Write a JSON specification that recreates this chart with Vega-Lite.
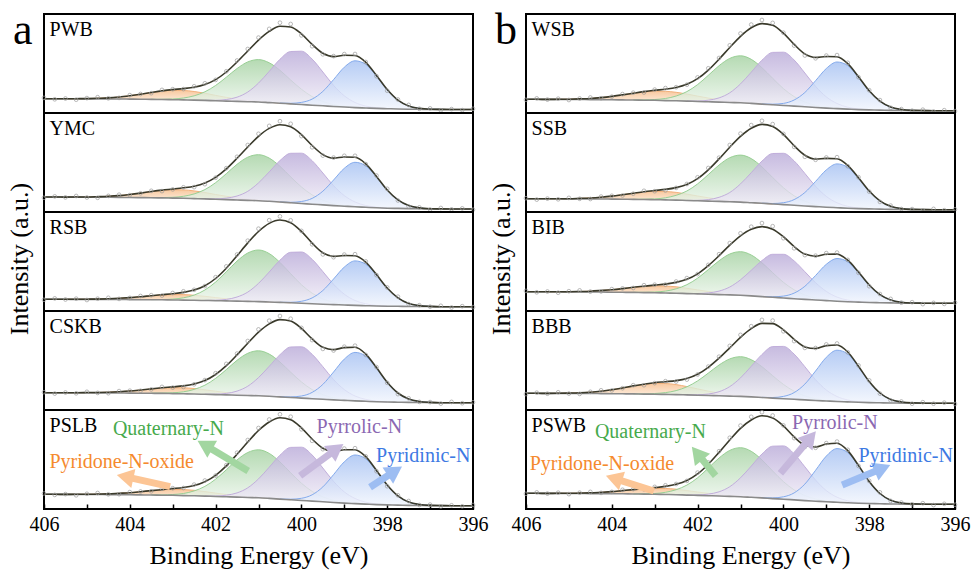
{
  "$schema": "https://vega.github.io/schema/vega-lite/v6.json",
  "background": "white",
  "padding": {"left": 6, "top": 7, "right": 5, "bottom": 2},
  "spacing": 0,
  "config": {
    "view": {"stroke": "black", "strokeWidth": 2},
    "font": "Liberation Serif",
    "axisY": {"disable": true},
    "axis": {
      "labelFont": "Liberation Serif", "labelFontSize": 20, "labelColor": "black",
      "titleFont": "Liberation Serif", "titleFontSize": 26, "titleFontWeight": "normal", "titleColor": "black",
      "tickColor": "black", "tickWidth": 1.5, "domain": false, "grid": false
    },
    "header": {"titleFont": "Liberation Serif", "titleFontSize": 26, "titleFontWeight": "normal", "titleColor": "black"}
  },
  "datasets": {
    "a": [
      {"p":"PWB","tag":"a","x":406.72},
      {"p":"PWB","x":406,"b":14.3,"e":14.3,"d":15.1},
      {"p":"PWB","x":405.75,"b":14.3,"e":14.3,"d":13.7},
      {"p":"PWB","x":405.5,"b":14.2,"o":14.2,"e":14.2,"d":14.5},
      {"p":"PWB","x":405.25,"b":14.2,"o":14.3,"e":14.3,"d":13.3},
      {"p":"PWB","x":405,"b":14.1,"o":14.4,"e":14.4,"d":14.9},
      {"p":"PWB","x":404.75,"b":14.1,"o":14.7,"e":14.7,"d":15.8},
      {"p":"PWB","x":404.5,"b":14,"o":15.1,"e":15.1,"d":14.7},
      {"p":"PWB","x":404.25,"b":14,"o":16,"e":16,"d":15.1},
      {"p":"PWB","x":404,"b":13.9,"o":17.3,"e":17.3,"d":17.9},
      {"p":"PWB","x":403.75,"b":13.8,"o":18.8,"e":18.8,"d":19},
      {"p":"PWB","x":403.5,"b":13.6,"o":20.4,"g":13.7,"e":20.5,"d":19.8},
      {"p":"PWB","x":403.25,"b":13.5,"o":21.9,"g":13.7,"e":22.1,"d":23.1},
      {"p":"PWB","x":403,"b":13.3,"o":22.6,"g":14,"e":23.4,"d":23.8},
      {"p":"PWB","x":402.75,"b":13.1,"o":22.5,"g":15,"e":24.4,"d":23.9},
      {"p":"PWB","x":402.5,"b":12.9,"o":21.5,"g":17.2,"e":25.8,"d":26.7},
      {"p":"PWB","x":402.25,"b":12.6,"o":19.8,"g":21.2,"v":12.7,"e":28.5,"d":29.7},
      {"p":"PWB","x":402,"b":12.2,"o":17.6,"g":27.5,"v":12.7,"e":33.4,"d":33.1},
      {"p":"PWB","x":401.75,"b":11.9,"o":15.6,"g":35.8,"v":13.5,"e":41,"d":41.7},
      {"p":"PWB","x":401.5,"b":11.6,"o":13.9,"g":44.5,"v":15.8,"e":51,"d":52.5},
      {"p":"PWB","x":401.25,"b":11.3,"o":12.6,"g":51.1,"v":21,"e":62,"d":64},
      {"p":"PWB","x":401,"b":11,"o":11.7,"g":53.4,"v":29.9,"e":72.9,"d":75.4},
      {"p":"PWB","x":400.75,"b":10.4,"o":10.7,"g":50.2,"v":41.6,"e":81.6,"d":84.1},
      {"p":"PWB","x":400.5,"b":9.8,"o":9.9,"g":42.7,"v":53.7,"u":9.9,"e":86.8,"d":90.3},
      {"p":"PWB","x":400.25,"b":9.1,"o":9.2,"g":33,"v":61.5,"u":9.7,"e":86,"d":89},
      {"p":"PWB","x":400,"b":8.5,"g":23.8,"v":61.8,"u":10.6,"e":79.1,"d":77.6},
      {"p":"PWB","x":399.75,"b":7.8,"g":16.4,"v":53.9,"u":13.9,"e":68.6,"d":66.8},
      {"p":"PWB","x":399.5,"b":7.2,"g":11.5,"v":41,"u":21.6,"e":59.7,"d":58.7},
      {"p":"PWB","x":399.25,"b":6.5,"g":8.4,"v":27.6,"u":33.4,"e":56.4,"d":56.9},
      {"p":"PWB","x":399,"b":6,"g":6.7,"v":17.2,"u":45.8,"e":57.7,"d":58.9},
      {"p":"PWB","x":398.75,"b":5.4,"g":5.6,"v":10.5,"u":52.2,"e":57.5,"d":59},
      {"p":"PWB","x":398.5,"b":5,"g":5.1,"v":6.9,"u":48.7,"e":50.7,"d":51},
      {"p":"PWB","x":398.25,"b":4.6,"v":5.3,"u":36.9,"e":37.6,"d":36.8},
      {"p":"PWB","x":398,"b":4.3,"v":4.5,"u":23.3,"e":23.5,"d":22.3},
      {"p":"PWB","x":397.75,"b":4,"u":12.9,"e":12.9,"d":13.5},
      {"p":"PWB","x":397.5,"b":3.8,"u":7.1,"e":7.1,"d":8.1},
      {"p":"PWB","x":397.25,"b":3.7,"u":4.7,"e":4.7,"d":4.2},
      {"p":"PWB","x":397,"b":3.6,"u":3.8,"e":3.8,"d":4.6},
      {"p":"PWB","x":396.75,"b":3.6,"u":3.6,"e":3.6,"d":2.7},
      {"p":"PWB","x":396.5,"b":3.5,"e":3.5,"d":3.9},
      {"p":"PWB","x":396.25,"b":3.5,"e":3.5,"d":2.9},
      {"p":"PWB","x":396,"b":3.5,"e":3.5,"d":4.2},

      {"p":"YMC","x":406,"b":15,"e":15,"d":14.2},
      {"p":"YMC","x":405.75,"b":15,"e":15,"d":15.6},
      {"p":"YMC","x":405.5,"b":14.9,"o":14.9,"e":14.9,"d":14.6},
      {"p":"YMC","x":405.25,"b":14.9,"o":15,"e":15,"d":16},
      {"p":"YMC","x":405,"b":14.8,"o":15,"e":15,"d":14.5},
      {"p":"YMC","x":404.75,"b":14.8,"o":15.3,"e":15.3,"d":14.2},
      {"p":"YMC","x":404.5,"b":14.7,"o":15.7,"e":15.7,"d":16.1},
      {"p":"YMC","x":404.25,"b":14.6,"o":16.4,"e":16.4,"d":17.3},
      {"p":"YMC","x":404,"b":14.5,"o":17.5,"e":17.5,"d":16.9},
      {"p":"YMC","x":403.75,"b":14.4,"o":18.9,"e":18.9,"d":18.7},
      {"p":"YMC","x":403.5,"b":14.3,"o":20.4,"g":14.4,"e":20.5,"d":21.2},
      {"p":"YMC","x":403.25,"b":14.1,"o":21.6,"g":14.4,"e":21.9,"d":20.9},
      {"p":"YMC","x":403,"b":13.9,"o":22.3,"g":14.7,"e":23,"d":22.6},
      {"p":"YMC","x":402.75,"b":13.7,"o":22.1,"g":15.7,"e":24.2,"d":24.7},
      {"p":"YMC","x":402.5,"b":13.4,"o":21.1,"g":18.1,"e":25.8,"d":24.9},
      {"p":"YMC","x":402.25,"b":13.1,"o":19.5,"g":22.4,"v":13.2,"e":29,"d":27.8},
      {"p":"YMC","x":402,"b":12.7,"o":17.5,"g":29.3,"v":13.2,"e":34.6,"d":34.3},
      {"p":"YMC","x":401.75,"b":12.4,"o":15.7,"g":38.3,"v":13.9,"e":43.1,"d":43.8},
      {"p":"YMC","x":401.5,"b":12,"o":14.1,"g":47.7,"v":16,"e":53.7,"d":55.2},
      {"p":"YMC","x":401.25,"b":11.6,"o":12.8,"g":54.8,"v":20.7,"e":65,"d":67},
      {"p":"YMC","x":401,"b":11.3,"o":11.9,"g":57.3,"v":29.1,"e":75.7,"d":78.2},
      {"p":"YMC","x":400.75,"b":10.7,"o":11,"g":53.9,"v":40.1,"e":83.6,"d":86.1},
      {"p":"YMC","x":400.5,"b":10,"o":10.1,"g":45.7,"v":51.4,"u":10.1,"e":87.3,"d":90.8},
      {"p":"YMC","x":400.25,"b":9.2,"o":9.2,"g":35.1,"v":58.7,"u":9.7,"e":85.2,"d":88.2},
      {"p":"YMC","x":400,"b":8.5,"g":25.1,"v":58.8,"u":10.5,"e":77.4,"d":75.9},
      {"p":"YMC","x":399.75,"b":7.8,"g":17.1,"v":51.3,"u":13.6,"e":66.5,"d":64.7},
      {"p":"YMC","x":399.5,"b":7.1,"g":11.8,"v":39,"u":20.8,"e":57.4,"d":56.4},
      {"p":"YMC","x":399.25,"b":6.4,"g":8.4,"v":26.3,"u":32,"e":53.9,"d":54.4},
      {"p":"YMC","x":399,"b":5.8,"g":6.6,"v":16.4,"u":43.7,"e":55,"d":56.2},
      {"p":"YMC","x":398.75,"b":5.2,"g":5.5,"v":10,"u":49.7,"e":54.7,"d":56.2},
      {"p":"YMC","x":398.5,"b":4.7,"g":4.8,"v":6.5,"u":46.2,"e":48.2,"d":47.9},
      {"p":"YMC","x":398.25,"b":4.2,"v":4.8,"u":35,"e":35.6,"d":36.4},
      {"p":"YMC","x":398,"b":3.8,"v":4,"u":21.9,"e":22,"d":23.2},
      {"p":"YMC","x":397.75,"b":3.6,"u":12.1,"e":12.1,"d":11.5},
      {"p":"YMC","x":397.5,"b":3.4,"u":6.5,"e":6.5,"d":5.5},
      {"p":"YMC","x":397.25,"b":3.2,"u":4.1,"e":4.1,"d":4.6},
      {"p":"YMC","x":397,"b":3.1,"u":3.3,"e":3.3,"d":2.5},
      {"p":"YMC","x":396.75,"b":3.1,"u":3.1,"e":3.1,"d":4},
      {"p":"YMC","x":396.5,"b":3,"e":3,"d":2.6},
      {"p":"YMC","x":396.25,"b":3,"e":3,"d":3.6},
      {"p":"YMC","x":396,"b":3,"e":3,"d":2.3},

      {"p":"RSB","x":406,"b":11.7,"e":11.7,"d":11.2},
      {"p":"RSB","x":405.75,"b":11.7,"e":11.7,"d":12.6},
      {"p":"RSB","x":405.5,"b":11.7,"o":11.7,"e":11.7,"d":11.5},
      {"p":"RSB","x":405.25,"b":11.6,"o":11.7,"e":11.7,"d":12.3},
      {"p":"RSB","x":405,"b":11.6,"o":11.8,"e":11.8,"d":11},
      {"p":"RSB","x":404.75,"b":11.6,"o":11.9,"e":11.9,"d":12.3},
      {"p":"RSB","x":404.5,"b":11.5,"o":12.2,"e":12.2,"d":13.2},
      {"p":"RSB","x":404.25,"b":11.5,"o":12.7,"e":12.7,"d":12.1},
      {"p":"RSB","x":404,"b":11.4,"o":13.4,"e":13.4,"d":13.1},
      {"p":"RSB","x":403.75,"b":11.3,"o":14.2,"e":14.2,"d":15},
      {"p":"RSB","x":403.5,"b":11.3,"o":15.2,"g":11.4,"e":15.3,"d":15.8},
      {"p":"RSB","x":403.25,"b":11.2,"o":16.1,"g":11.5,"e":16.3,"d":15.4},
      {"p":"RSB","x":403,"b":11,"o":16.4,"g":11.9,"e":17.3,"d":18},
      {"p":"RSB","x":402.75,"b":10.9,"o":16.4,"g":13.2,"e":18.6,"d":19.7},
      {"p":"RSB","x":402.5,"b":10.7,"o":15.7,"g":15.9,"e":20.9,"d":21.2},
      {"p":"RSB","x":402.25,"b":10.5,"o":14.7,"g":21,"v":10.6,"e":25.3,"d":24.9},
      {"p":"RSB","x":402,"b":10.3,"o":13.4,"g":28.9,"v":10.8,"e":32.5,"d":33.8},
      {"p":"RSB","x":401.75,"b":10.1,"o":12.2,"g":39.2,"v":11.6,"e":42.8,"d":44.6},
      {"p":"RSB","x":401.5,"b":9.9,"o":11.2,"g":49.9,"v":14,"e":55.3,"d":56.5},
      {"p":"RSB","x":401.25,"b":9.6,"o":10.3,"g":58,"v":18.9,"e":68.1,"d":70.3},
      {"p":"RSB","x":401,"b":9.4,"o":9.8,"g":61,"v":27.6,"e":79.5,"d":82.3},
      {"p":"RSB","x":400.75,"b":9,"o":9.2,"g":57.4,"v":39,"e":87.6,"d":90.8},
      {"p":"RSB","x":400.5,"b":8.6,"o":8.7,"g":48.6,"v":50.8,"u":8.7,"e":91,"d":94.6},
      {"p":"RSB","x":400.25,"b":8.2,"o":8.2,"g":37.3,"v":58.7,"u":8.7,"e":88.3,"d":90.7},
      {"p":"RSB","x":400,"b":7.7,"g":26.3,"v":59,"u":9.7,"e":79.6,"d":80.1},
      {"p":"RSB","x":399.75,"b":7.3,"g":17.8,"v":51.7,"u":13.1,"e":67.9,"d":66.7},
      {"p":"RSB","x":399.5,"b":6.8,"g":12,"v":39.4,"u":20.5,"e":58.2,"d":56.6},
      {"p":"RSB","x":399.25,"b":6.4,"g":8.7,"v":26.7,"u":32,"e":54.6,"d":53.8},
      {"p":"RSB","x":399,"b":6,"g":6.9,"v":16.8,"u":43.9,"e":55.5,"d":56.4},
      {"p":"RSB","x":398.75,"b":5.6,"g":5.9,"v":10.5,"u":50.1,"e":55.2,"d":56.8},
      {"p":"RSB","x":398.5,"b":5.3,"g":5.4,"v":7.2,"u":46.8,"e":48.8,"d":49.6},
      {"p":"RSB","x":398.25,"b":5,"v":5.6,"u":35.8,"e":36.4,"d":35.9},
      {"p":"RSB","x":398,"b":4.8,"v":5,"u":22.9,"e":23,"d":23.6},
      {"p":"RSB","x":397.75,"b":4.7,"u":13.2,"e":13.2,"d":14.3},
      {"p":"RSB","x":397.5,"b":4.5,"u":7.6,"e":7.6,"d":6.9},
      {"p":"RSB","x":397.25,"b":4.5,"u":5.4,"e":5.4,"d":5.8},
      {"p":"RSB","x":397,"b":4.4,"u":4.6,"e":4.6,"d":4.3},
      {"p":"RSB","x":396.75,"b":4.3,"u":4.3,"e":4.3,"d":5.2},
      {"p":"RSB","x":396.5,"b":4.3,"e":4.3,"d":3.5},
      {"p":"RSB","x":396.25,"b":4.3,"e":4.3,"d":4.8},
      {"p":"RSB","x":396,"b":4.3,"e":4.3,"d":3.9},

      {"p":"CSKB","x":406,"b":17.3,"e":17.3,"d":17.8},
      {"p":"CSKB","x":405.75,"b":17.3,"e":17.3,"d":16.4},
      {"p":"CSKB","x":405.5,"b":17.3,"o":17.3,"e":17.3,"d":17.5},
      {"p":"CSKB","x":405.25,"b":17.2,"o":17.3,"e":17.3,"d":16.7},
      {"p":"CSKB","x":405,"b":17.2,"o":17.4,"e":17.4,"d":18.2},
      {"p":"CSKB","x":404.75,"b":17.1,"o":17.5,"e":17.5,"d":17.1},
      {"p":"CSKB","x":404.5,"b":17.1,"o":17.8,"e":17.8,"d":16.8},
      {"p":"CSKB","x":404.25,"b":17,"o":18.3,"e":18.3,"d":18.9},
      {"p":"CSKB","x":404,"b":16.9,"o":19,"e":19,"d":19.3},
      {"p":"CSKB","x":403.75,"b":16.8,"o":20,"e":20,"d":19.2},
      {"p":"CSKB","x":403.5,"b":16.7,"o":21,"g":16.8,"e":21.1,"d":20.6},
      {"p":"CSKB","x":403.25,"b":16.6,"o":21.9,"g":16.9,"e":22.2,"d":23.1},
      {"p":"CSKB","x":403,"b":16.4,"o":22.3,"g":17.2,"e":23.1,"d":22.4},
      {"p":"CSKB","x":402.75,"b":16.2,"o":22.2,"g":18.2,"e":24.1,"d":23},
      {"p":"CSKB","x":402.5,"b":16,"o":21.5,"g":20.6,"e":26,"d":25.7},
      {"p":"CSKB","x":402.25,"b":15.7,"o":20.2,"g":24.8,"v":15.8,"e":29.5,"d":29.9},
      {"p":"CSKB","x":402,"b":15.4,"o":18.8,"g":31.6,"v":15.9,"e":35.5,"d":36.8},
      {"p":"CSKB","x":401.75,"b":15.1,"o":17.4,"g":40.4,"v":16.6,"e":44.3,"d":46.1},
      {"p":"CSKB","x":401.5,"b":14.8,"o":16.3,"g":49.7,"v":18.9,"e":55.2,"d":56.4},
      {"p":"CSKB","x":401.25,"b":14.5,"o":15.3,"g":56.7,"v":23.8,"e":66.8,"d":69},
      {"p":"CSKB","x":401,"b":14.2,"o":14.6,"g":59.2,"v":32.4,"e":77.8,"d":80.6},
      {"p":"CSKB","x":400.75,"b":13.7,"o":13.9,"g":55.9,"v":43.7,"e":86.1,"d":89.3},
      {"p":"CSKB","x":400.5,"b":13.1,"o":13.2,"g":48,"v":55.3,"u":13.2,"e":90.4,"d":94},
      {"p":"CSKB","x":400.25,"b":12.5,"o":12.5,"g":37.8,"v":63,"u":13.1,"e":88.9,"d":91.3},
      {"p":"CSKB","x":400,"b":11.9,"g":28.1,"v":63.2,"u":14,"e":81.6,"d":82.1},
      {"p":"CSKB","x":399.75,"b":11.3,"g":20.4,"v":55.7,"u":17.6,"e":71.1,"d":69.9},
      {"p":"CSKB","x":399.5,"b":10.7,"g":15.3,"v":43.3,"u":25.6,"e":62.7,"d":61.1},
      {"p":"CSKB","x":399.25,"b":10.1,"g":12.1,"v":30.4,"u":38,"e":60.3,"d":59.5},
      {"p":"CSKB","x":399,"b":9.6,"g":10.4,"v":20.4,"u":50.9,"e":62.4,"d":63.3},
      {"p":"CSKB","x":398.75,"b":9.1,"g":9.4,"v":14,"u":57.6,"e":62.7,"d":64.3},
      {"p":"CSKB","x":398.5,"b":8.7,"g":8.8,"v":10.6,"u":53.9,"e":55.9,"d":55.1},
      {"p":"CSKB","x":398.25,"b":8.3,"v":8.9,"u":41.8,"e":42.4,"d":42.9},
      {"p":"CSKB","x":398,"b":8,"v":8.2,"u":27.7,"e":27.8,"d":27.2},
      {"p":"CSKB","x":397.75,"b":7.8,"u":17,"e":17,"d":15.9},
      {"p":"CSKB","x":397.5,"b":7.6,"u":11,"e":11,"d":11.7},
      {"p":"CSKB","x":397.25,"b":7.5,"u":8.5,"e":8.5,"d":8.1},
      {"p":"CSKB","x":397,"b":7.4,"u":7.6,"e":7.6,"d":7.9},
      {"p":"CSKB","x":396.75,"b":7.3,"u":7.3,"e":7.3,"d":6.4},
      {"p":"CSKB","x":396.5,"b":7.3,"e":7.3,"d":8.1},
      {"p":"CSKB","x":396.25,"b":7.3,"e":7.3,"d":6.8},
      {"p":"CSKB","x":396,"b":7.3,"e":7.3,"d":7.7},

      {"p":"PSLB","x":406,"b":14.7,"e":14.7,"d":15.5},
      {"p":"PSLB","x":405.75,"b":14.7,"e":14.7,"d":14.1},
      {"p":"PSLB","x":405.5,"b":14.6,"o":14.6,"e":14.6,"d":14.9},
      {"p":"PSLB","x":405.25,"b":14.6,"o":14.7,"e":14.7,"d":13.7},
      {"p":"PSLB","x":405,"b":14.5,"o":14.7,"e":14.7,"d":15.2},
      {"p":"PSLB","x":404.75,"b":14.5,"o":14.9,"e":14.9,"d":16},
      {"p":"PSLB","x":404.5,"b":14.4,"o":15.1,"e":15.1,"d":14.7},
      {"p":"PSLB","x":404.25,"b":14.4,"o":15.7,"e":15.7,"d":14.8},
      {"p":"PSLB","x":404,"b":14.2,"o":16.3,"e":16.3,"d":16.9},
      {"p":"PSLB","x":403.75,"b":14.1,"o":17.3,"e":17.3,"d":17.5},
      {"p":"PSLB","x":403.5,"b":14,"o":18.3,"g":14.1,"e":18.4,"d":17.7},
      {"p":"PSLB","x":403.25,"b":13.8,"o":19.1,"g":14.1,"e":19.4,"d":20.4},
      {"p":"PSLB","x":403,"b":13.7,"o":19.6,"g":14.5,"e":20.4,"d":20.8},
      {"p":"PSLB","x":402.75,"b":13.4,"o":19.4,"g":15.5,"e":21.5,"d":21},
      {"p":"PSLB","x":402.5,"b":13.2,"o":18.7,"g":18.1,"e":23.5,"d":24.4},
      {"p":"PSLB","x":402.25,"b":12.9,"o":17.4,"g":22.6,"v":13,"e":27.3,"d":28.5},
      {"p":"PSLB","x":402,"b":12.5,"o":15.9,"g":29.8,"v":13,"e":33.7,"d":33.4},
      {"p":"PSLB","x":401.75,"b":12.2,"o":14.5,"g":39.2,"v":13.8,"e":43.1,"d":43.8},
      {"p":"PSLB","x":401.5,"b":11.9,"o":13.3,"g":49.1,"v":16.1,"e":54.8,"d":56.3},
      {"p":"PSLB","x":401.25,"b":11.5,"o":12.3,"g":56.5,"v":21.2,"e":67,"d":69},
      {"p":"PSLB","x":401,"b":11.2,"o":11.6,"g":59.2,"v":30.1,"e":78.5,"d":81},
      {"p":"PSLB","x":400.75,"b":10.6,"o":10.8,"g":55.6,"v":41.8,"e":87,"d":89.5},
      {"p":"PSLB","x":400.5,"b":9.9,"o":10,"g":47.1,"v":53.8,"u":10,"e":91.2,"d":94.7},
      {"p":"PSLB","x":400.25,"b":9.2,"o":9.2,"g":36.2,"v":61.6,"u":9.8,"e":89.3,"d":92.3},
      {"p":"PSLB","x":400,"b":8.5,"g":25.8,"v":61.8,"u":10.7,"e":81.2,"d":79.7},
      {"p":"PSLB","x":399.75,"b":7.9,"g":17.6,"v":54,"u":14.2,"e":70,"d":68.2},
      {"p":"PSLB","x":399.5,"b":7.2,"g":12.1,"v":41,"u":22.1,"e":60.8,"d":59.8},
      {"p":"PSLB","x":399.25,"b":6.5,"g":8.6,"v":27.6,"u":34.4,"e":57.6,"d":58.1},
      {"p":"PSLB","x":399,"b":5.9,"g":6.7,"v":17.1,"u":47.2,"e":59.2,"d":60.4},
      {"p":"PSLB","x":398.75,"b":5.4,"g":5.7,"v":10.5,"u":54,"e":59.3,"d":60.8},
      {"p":"PSLB","x":398.5,"b":4.9,"g":5,"v":6.8,"u":50.2,"e":52.3,"d":52.6},
      {"p":"PSLB","x":398.25,"b":4.4,"v":5.1,"u":38,"e":38.6,"d":37.8},
      {"p":"PSLB","x":398,"b":4.1,"v":4.3,"u":23.8,"e":24,"d":22.8},
      {"p":"PSLB","x":397.75,"b":3.9,"u":13.1,"e":13.1,"d":13.7},
      {"p":"PSLB","x":397.5,"b":3.6,"u":7,"e":7,"d":8},
      {"p":"PSLB","x":397.25,"b":3.5,"u":4.5,"e":4.5,"d":4},
      {"p":"PSLB","x":397,"b":3.4,"u":3.6,"e":3.6,"d":4.4},
      {"p":"PSLB","x":396.75,"b":3.4,"u":3.4,"e":3.4,"d":2.5},
      {"p":"PSLB","x":396.5,"b":3.3,"e":3.3,"d":3.7},
      {"p":"PSLB","x":396.25,"b":3.3,"e":3.3,"d":2.7},
      {"p":"PSLB","x":396,"b":3.3,"e":3.3,"d":4},

      {"p":"PSLB","lab":"Quaternary-N","tx":403.1,"ty":80,"sx":401.24,"sy":38,"hx":402.25,"hy":64},
      {"p":"PSLB","lab":"Pyridone-N-oxide","tx":404.19,"ty":47.3,"sx":403.06,"sy":22.3,"hx":404.11,"hy":32.3},
      {"p":"PSLB","lab":"Pyrrolic-N","tx":398.65,"ty":81.7,"sx":400.03,"sy":33.3,"hx":399.18,"hy":60},
      {"p":"PSLB","lab":"Pyridinic-N","tx":397.16,"ty":53.3,"sx":398.4,"sy":21.7,"hx":397.82,"hy":38}
    ],
    "b": [
      {"p":"WSB","tag":"b","x":406.72},
      {"p":"WSB","x":406,"b":13.7,"e":13.7,"d":13.2},
      {"p":"WSB","x":405.75,"b":13.7,"e":13.7,"d":14.6},
      {"p":"WSB","x":405.5,"b":13.6,"o":13.6,"e":13.6,"d":13.4},
      {"p":"WSB","x":405.25,"b":13.6,"o":13.7,"e":13.7,"d":14.3},
      {"p":"WSB","x":405,"b":13.5,"o":13.8,"e":13.8,"d":13},
      {"p":"WSB","x":404.75,"b":13.5,"o":14.1,"e":14.1,"d":14.5},
      {"p":"WSB","x":404.5,"b":13.4,"o":14.5,"e":14.5,"d":15.5},
      {"p":"WSB","x":404.25,"b":13.4,"o":15.4,"e":15.4,"d":14.8},
      {"p":"WSB","x":404,"b":13.2,"o":16.6,"e":16.6,"d":16.3},
      {"p":"WSB","x":403.75,"b":13.1,"o":18.1,"e":18.1,"d":18.9},
      {"p":"WSB","x":403.5,"b":13,"o":19.8,"g":13.1,"e":19.8,"d":20.3},
      {"p":"WSB","x":403.25,"b":12.8,"o":21.1,"g":13.1,"e":21.4,"d":20.5},
      {"p":"WSB","x":403,"b":12.7,"o":21.9,"g":13.5,"e":22.7,"d":23.4},
      {"p":"WSB","x":402.75,"b":12.4,"o":21.7,"g":14.5,"e":23.8,"d":24.9},
      {"p":"WSB","x":402.5,"b":12.2,"o":20.7,"g":17,"e":25.5,"d":25.8},
      {"p":"WSB","x":402.25,"b":11.9,"o":19,"g":21.4,"v":12,"e":28.7,"d":28.3},
      {"p":"WSB","x":402,"b":11.5,"o":16.9,"g":28.4,"v":12,"e":34.3,"d":35.6},
      {"p":"WSB","x":401.75,"b":11.2,"o":14.9,"g":37.7,"v":12.8,"e":42.9,"d":44.7},
      {"p":"WSB","x":401.5,"b":10.9,"o":13.2,"g":47.3,"v":15.1,"e":53.8,"d":55},
      {"p":"WSB","x":401.25,"b":10.5,"o":11.8,"g":54.6,"v":20.2,"e":65.5,"d":67.7},
      {"p":"WSB","x":401,"b":10.2,"o":10.9,"g":57.2,"v":29.1,"e":76.7,"d":79.5},
      {"p":"WSB","x":400.75,"b":9.6,"o":9.9,"g":53.7,"v":40.8,"e":85.2,"d":88.4},
      {"p":"WSB","x":400.5,"b":8.9,"o":9,"g":45.3,"v":52.8,"u":9,"e":89.4,"d":93},
      {"p":"WSB","x":400.25,"b":8.2,"o":8.3,"g":34.7,"v":60.6,"u":8.8,"e":87.7,"d":90.1},
      {"p":"WSB","x":400,"b":7.5,"g":24.4,"v":60.8,"u":9.6,"e":79.8,"d":80.3},
      {"p":"WSB","x":399.75,"b":6.9,"g":16.4,"v":53,"u":13,"e":68.6,"d":67.4},
      {"p":"WSB","x":399.5,"b":6.2,"g":11,"v":40,"u":20.5,"e":59.1,"d":57.5},
      {"p":"WSB","x":399.25,"b":5.5,"g":7.6,"v":26.6,"u":32.3,"e":55.5,"d":54.7},
      {"p":"WSB","x":399,"b":4.9,"g":5.7,"v":16.1,"u":44.5,"e":56.5,"d":57.4},
      {"p":"WSB","x":398.75,"b":4.4,"g":4.7,"v":9.5,"u":51,"e":56.3,"d":57.9},
      {"p":"WSB","x":398.5,"b":3.9,"g":4,"v":5.8,"u":47.4,"e":49.4,"d":50.2},
      {"p":"WSB","x":398.25,"b":3.4,"v":4.1,"u":35.6,"e":36.3,"d":35.8},
      {"p":"WSB","x":398,"b":3.1,"v":3.3,"u":22,"e":22.2,"d":22.8},
      {"p":"WSB","x":397.75,"b":2.9,"u":11.8,"e":11.8,"d":12.9},
      {"p":"WSB","x":397.5,"b":2.6,"u":5.9,"e":5.9,"d":5.2},
      {"p":"WSB","x":397.25,"b":2.5,"u":3.5,"e":3.5,"d":3.9},
      {"p":"WSB","x":397,"b":2.4,"u":2.6,"e":2.6,"d":2.3},
      {"p":"WSB","x":396.75,"b":2.4,"u":2.4,"e":2.4,"d":3.3},
      {"p":"WSB","x":396.5,"b":2.3,"e":2.3,"d":1.5},
      {"p":"WSB","x":396.25,"b":2.3,"e":2.3,"d":2.8},
      {"p":"WSB","x":396,"b":2.3,"e":2.3,"d":1.9},

      {"p":"SSB","x":406,"b":13.3,"e":13.3,"d":13.8},
      {"p":"SSB","x":405.75,"b":13.3,"e":13.3,"d":12.4},
      {"p":"SSB","x":405.5,"b":13.2,"o":13.2,"e":13.2,"d":13.4},
      {"p":"SSB","x":405.25,"b":13.2,"o":13.3,"e":13.3,"d":12.7},
      {"p":"SSB","x":405,"b":13.1,"o":13.3,"e":13.3,"d":14.1},
      {"p":"SSB","x":404.75,"b":13.1,"o":13.6,"e":13.6,"d":13.2},
      {"p":"SSB","x":404.5,"b":13,"o":14,"e":14,"d":13},
      {"p":"SSB","x":404.25,"b":13,"o":14.8,"e":14.8,"d":15.4},
      {"p":"SSB","x":404,"b":12.9,"o":15.9,"e":15.9,"d":16.2},
      {"p":"SSB","x":403.75,"b":12.8,"o":17.3,"e":17.3,"d":16.5},
      {"p":"SSB","x":403.5,"b":12.6,"o":18.7,"g":12.7,"e":18.8,"d":18.3},
      {"p":"SSB","x":403.25,"b":12.5,"o":20,"g":12.8,"e":20.3,"d":21.2},
      {"p":"SSB","x":403,"b":12.3,"o":20.7,"g":13.1,"e":21.5,"d":20.8},
      {"p":"SSB","x":402.75,"b":12.1,"o":20.5,"g":14.2,"e":22.6,"d":21.5},
      {"p":"SSB","x":402.5,"b":11.9,"o":19.6,"g":16.7,"e":24.4,"d":24.1},
      {"p":"SSB","x":402.25,"b":11.5,"o":17.9,"g":21,"v":11.6,"e":27.6,"d":28},
      {"p":"SSB","x":402,"b":11.2,"o":16,"g":28.1,"v":11.7,"e":33.4,"d":34.7},
      {"p":"SSB","x":401.75,"b":10.9,"o":14.2,"g":37.4,"v":12.4,"e":42.2,"d":44},
      {"p":"SSB","x":401.5,"b":10.6,"o":12.7,"g":47,"v":14.7,"e":53.1,"d":54.3},
      {"p":"SSB","x":401.25,"b":10.2,"o":11.4,"g":54.3,"v":19.5,"e":64.8,"d":67},
      {"p":"SSB","x":401,"b":9.9,"o":10.5,"g":56.9,"v":28.1,"e":75.6,"d":78.4},
      {"p":"SSB","x":400.75,"b":9.3,"o":9.6,"g":53.4,"v":39.3,"e":83.7,"d":86.9},
      {"p":"SSB","x":400.5,"b":8.7,"o":8.8,"g":45.1,"v":50.9,"u":8.8,"e":87.6,"d":91.2},
      {"p":"SSB","x":400.25,"b":8,"o":8,"g":34.5,"v":58.5,"u":8.5,"e":85.5,"d":87.9},
      {"p":"SSB","x":400,"b":7.4,"g":24.3,"v":58.7,"u":9.3,"e":77.6,"d":78.1},
      {"p":"SSB","x":399.75,"b":6.7,"g":16.2,"v":51.1,"u":12.4,"e":66.3,"d":65.1},
      {"p":"SSB","x":399.5,"b":6,"g":10.8,"v":38.6,"u":19.5,"e":56.8,"d":55.2},
      {"p":"SSB","x":399.25,"b":5.4,"g":7.5,"v":25.7,"u":30.6,"e":53,"d":52.2},
      {"p":"SSB","x":399,"b":4.8,"g":5.6,"v":15.6,"u":42.1,"e":53.6,"d":54.5},
      {"p":"SSB","x":398.75,"b":4.3,"g":4.6,"v":9.2,"u":48.1,"e":53.2,"d":54.8},
      {"p":"SSB","x":398.5,"b":3.8,"g":3.9,"v":5.7,"u":44.7,"e":46.6,"d":45.8},
      {"p":"SSB","x":398.25,"b":3.4,"v":4,"u":33.7,"e":34.3,"d":34.8},
      {"p":"SSB","x":398,"b":3.1,"v":3.3,"u":20.9,"e":21,"d":20.4},
      {"p":"SSB","x":397.75,"b":2.9,"u":11.2,"e":11.2,"d":10.1},
      {"p":"SSB","x":397.5,"b":2.6,"u":5.7,"e":5.7,"d":6.4},
      {"p":"SSB","x":397.25,"b":2.5,"u":3.4,"e":3.4,"d":3},
      {"p":"SSB","x":397,"b":2.4,"u":2.6,"e":2.6,"d":2.9},
      {"p":"SSB","x":396.75,"b":2.4,"u":2.4,"e":2.4,"d":1.5},
      {"p":"SSB","x":396.5,"b":2.3,"e":2.3,"d":3.1},
      {"p":"SSB","x":396.25,"b":2.3,"e":2.3,"d":1.8},
      {"p":"SSB","x":396,"b":2.3,"e":2.3,"d":2.7},

      {"p":"BIB","x":406,"b":19.3,"e":19.3,"d":20.1},
      {"p":"BIB","x":405.75,"b":19.3,"e":19.3,"d":18.7},
      {"p":"BIB","x":405.5,"b":19.2,"o":19.2,"e":19.2,"d":19.5},
      {"p":"BIB","x":405.25,"b":19.2,"o":19.3,"e":19.3,"d":18.3},
      {"p":"BIB","x":405,"b":19.1,"o":19.3,"e":19.3,"d":19.8},
      {"p":"BIB","x":404.75,"b":19.1,"o":19.5,"e":19.5,"d":20.6},
      {"p":"BIB","x":404.5,"b":19,"o":19.8,"e":19.8,"d":19.4},
      {"p":"BIB","x":404.25,"b":19,"o":20.5,"e":20.5,"d":19.6},
      {"p":"BIB","x":404,"b":18.8,"o":21.3,"e":21.3,"d":21.9},
      {"p":"BIB","x":403.75,"b":18.7,"o":22.4,"e":22.4,"d":22.6},
      {"p":"BIB","x":403.5,"b":18.6,"o":23.6,"g":18.7,"e":23.7,"d":23},
      {"p":"BIB","x":403.25,"b":18.4,"o":24.6,"g":18.7,"e":24.8,"d":25.8},
      {"p":"BIB","x":403,"b":18.3,"o":25.2,"g":19,"e":25.9,"d":26.3},
      {"p":"BIB","x":402.75,"b":18,"o":24.9,"g":19.9,"e":26.9,"d":26.4},
      {"p":"BIB","x":402.5,"b":17.8,"o":24.2,"g":22.2,"e":28.6,"d":29.5},
      {"p":"BIB","x":402.25,"b":17.4,"o":22.7,"g":26.3,"v":17.5,"e":31.7,"d":32.9},
      {"p":"BIB","x":402,"b":17.1,"o":21.1,"g":32.8,"v":17.5,"e":37.2,"d":36.9},
      {"p":"BIB","x":401.75,"b":16.8,"o":19.5,"g":41.4,"v":18.1,"e":45.4,"d":46.1},
      {"p":"BIB","x":401.5,"b":16.4,"o":18.1,"g":50.2,"v":19.9,"e":55.3,"d":56.8},
      {"p":"BIB","x":401.25,"b":16.1,"o":17.1,"g":57,"v":24,"e":65.9,"d":67.9},
      {"p":"BIB","x":401,"b":15.7,"o":16.2,"g":59.3,"v":31.2,"e":75.2,"d":77.7},
      {"p":"BIB","x":400.75,"b":15.1,"o":15.3,"g":56,"v":40.7,"e":81.8,"d":84.3},
      {"p":"BIB","x":400.5,"b":14.4,"o":14.5,"g":48.2,"v":50.4,"u":14.5,"e":84.4,"d":87.9},
      {"p":"BIB","x":400.25,"b":13.7,"o":13.7,"g":38.3,"v":56.7,"u":14.2,"e":81.8,"d":84.8},
      {"p":"BIB","x":400,"b":13,"g":28.7,"v":56.7,"u":14.9,"e":74.3,"d":72.8},
      {"p":"BIB","x":399.75,"b":12.3,"g":21.2,"v":50.1,"u":17.9,"e":64.5,"d":62.7},
      {"p":"BIB","x":399.5,"b":11.6,"g":16,"v":39.3,"u":24.7,"e":56.9,"d":55.9},
      {"p":"BIB","x":399.25,"b":11,"g":12.9,"v":28.3,"u":35.5,"e":54.8,"d":55.3},
      {"p":"BIB","x":399,"b":10.4,"g":11.1,"v":19.6,"u":46.7,"e":56.7,"d":57.9},
      {"p":"BIB","x":398.75,"b":9.8,"g":10.1,"v":13.9,"u":52.5,"e":56.9,"d":58.4},
      {"p":"BIB","x":398.5,"b":9.3,"g":9.4,"v":10.9,"u":49.2,"e":50.8,"d":51.1},
      {"p":"BIB","x":398.25,"b":8.9,"v":9.4,"u":38.4,"e":39,"d":38.2},
      {"p":"BIB","x":398,"b":8.5,"v":8.6,"u":25.8,"e":26,"d":24.8},
      {"p":"BIB","x":397.75,"b":8.3,"u":16.4,"e":16.4,"d":17},
      {"p":"BIB","x":397.5,"b":8.1,"u":11.1,"e":11.1,"d":12.1},
      {"p":"BIB","x":397.25,"b":7.9,"u":8.8,"e":8.8,"d":8.3},
      {"p":"BIB","x":397,"b":7.8,"u":8,"e":8,"d":8.8},
      {"p":"BIB","x":396.75,"b":7.8,"u":7.8,"e":7.8,"d":6.9},
      {"p":"BIB","x":396.5,"b":7.7,"e":7.7,"d":8.1},
      {"p":"BIB","x":396.25,"b":7.7,"e":7.7,"d":7.1},
      {"p":"BIB","x":396,"b":7.7,"e":7.7,"d":8.4},

      {"p":"BBB","x":406,"b":16.7,"e":16.7,"d":15.9},
      {"p":"BBB","x":405.75,"b":16.7,"e":16.7,"d":17.3},
      {"p":"BBB","x":405.5,"b":16.6,"o":16.6,"e":16.6,"d":16.3},
      {"p":"BBB","x":405.25,"b":16.6,"o":16.7,"e":16.7,"d":17.7},
      {"p":"BBB","x":405,"b":16.6,"o":16.9,"e":16.9,"d":16.4},
      {"p":"BBB","x":404.75,"b":16.5,"o":17.2,"e":17.2,"d":16.1},
      {"p":"BBB","x":404.5,"b":16.5,"o":17.8,"e":17.8,"d":18.2},
      {"p":"BBB","x":404.25,"b":16.4,"o":18.8,"e":18.8,"d":19.7},
      {"p":"BBB","x":404,"b":16.3,"o":20.2,"e":20.2,"d":19.6},
      {"p":"BBB","x":403.75,"b":16.2,"o":22,"e":22,"d":21.8},
      {"p":"BBB","x":403.5,"b":16.1,"o":24,"g":16.2,"e":24.1,"d":24.8},
      {"p":"BBB","x":403.25,"b":15.9,"o":25.6,"g":16.1,"e":25.8,"d":24.8},
      {"p":"BBB","x":403,"b":15.8,"o":26.6,"g":16.5,"e":27.3,"d":26.9},
      {"p":"BBB","x":402.75,"b":15.6,"o":26.5,"g":17.4,"e":28.3,"d":28.8},
      {"p":"BBB","x":402.5,"b":15.4,"o":25.4,"g":19.4,"e":29.4,"d":28.5},
      {"p":"BBB","x":402.25,"b":15.1,"o":23.4,"g":23.2,"v":15.2,"e":31.6,"d":30.4},
      {"p":"BBB","x":402,"b":14.8,"o":21.1,"g":29.1,"v":15.3,"e":35.8,"d":35.5},
      {"p":"BBB","x":401.75,"b":14.5,"o":18.8,"g":36.9,"v":16,"e":42.7,"d":43.4},
      {"p":"BBB","x":401.5,"b":14.2,"o":16.9,"g":45,"v":18.3,"e":51.8,"d":53.3},
      {"p":"BBB","x":401.25,"b":13.9,"o":15.4,"g":51.1,"v":23.4,"e":62.1,"d":64.1},
      {"p":"BBB","x":401,"b":13.6,"o":14.4,"g":53.3,"v":32.1,"e":72.6,"d":75.1},
      {"p":"BBB","x":400.75,"b":13.1,"o":13.5,"g":50.3,"v":43.7,"e":81.3,"d":83.8},
      {"p":"BBB","x":400.5,"b":12.5,"o":12.6,"g":43.3,"v":55.5,"u":12.6,"e":86.6,"d":90.1},
      {"p":"BBB","x":400.25,"b":11.9,"o":12,"g":34.3,"v":63.4,"u":12.5,"e":86.4,"d":89.4},
      {"p":"BBB","x":400,"b":11.3,"g":25.6,"v":63.6,"u":13.6,"e":80.2,"d":78.7},
      {"p":"BBB","x":399.75,"b":10.7,"g":18.8,"v":55.9,"u":17.4,"e":70.7,"d":68.9},
      {"p":"BBB","x":399.5,"b":10.1,"g":14.1,"v":43.3,"u":25.9,"e":63.1,"d":62.1},
      {"p":"BBB","x":399.25,"b":9.5,"g":11.3,"v":30.2,"u":39,"e":61.5,"d":62},
      {"p":"BBB","x":399,"b":9,"g":9.7,"v":20,"u":52.7,"e":64.4,"d":65.6},
      {"p":"BBB","x":398.75,"b":8.5,"g":8.7,"v":13.5,"u":59.8,"e":65,"d":66.5},
      {"p":"BBB","x":398.5,"b":8.1,"g":8.2,"v":10,"u":56,"e":58,"d":57.7},
      {"p":"BBB","x":398.25,"b":7.7,"v":8.3,"u":43.2,"e":43.8,"d":44.6},
      {"p":"BBB","x":398,"b":7.4,"v":7.6,"u":28.3,"e":28.4,"d":29.6},
      {"p":"BBB","x":397.75,"b":7.2,"u":17,"e":17,"d":16.4},
      {"p":"BBB","x":397.5,"b":7,"u":10.6,"e":10.6,"d":9.6},
      {"p":"BBB","x":397.25,"b":6.9,"u":8,"e":8,"d":8.5},
      {"p":"BBB","x":397,"b":6.8,"u":7.1,"e":7.1,"d":6.3},
      {"p":"BBB","x":396.75,"b":6.8,"u":6.9,"e":6.9,"d":7.8},
      {"p":"BBB","x":396.5,"b":6.7,"e":6.7,"d":6.3},
      {"p":"BBB","x":396.25,"b":6.7,"e":6.7,"d":7.3},
      {"p":"BBB","x":396,"b":6.7,"e":6.7,"d":6},

      {"p":"PSWB","x":406,"b":15.7,"e":15.7,"d":15.2},
      {"p":"PSWB","x":405.75,"b":15.7,"e":15.7,"d":16.6},
      {"p":"PSWB","x":405.5,"b":15.6,"o":15.6,"e":15.6,"d":15.4},
      {"p":"PSWB","x":405.25,"b":15.6,"o":15.7,"e":15.7,"d":16.3},
      {"p":"PSWB","x":405,"b":15.5,"o":15.7,"e":15.7,"d":14.9},
      {"p":"PSWB","x":404.75,"b":15.5,"o":15.9,"e":15.9,"d":16.3},
      {"p":"PSWB","x":404.5,"b":15.4,"o":16.1,"e":16.1,"d":17.1},
      {"p":"PSWB","x":404.25,"b":15.4,"o":16.7,"e":16.7,"d":16.1},
      {"p":"PSWB","x":404,"b":15.3,"o":17.4,"e":17.4,"d":17.1},
      {"p":"PSWB","x":403.75,"b":15.2,"o":18.4,"e":18.4,"d":19.2},
      {"p":"PSWB","x":403.5,"b":15,"o":19.3,"g":15.1,"e":19.4,"d":19.9},
      {"p":"PSWB","x":403.25,"b":14.9,"o":20.2,"g":15.2,"e":20.5,"d":19.6},
      {"p":"PSWB","x":403,"b":14.7,"o":20.6,"g":15.5,"e":21.4,"d":22.1},
      {"p":"PSWB","x":402.75,"b":14.5,"o":20.5,"g":16.7,"e":22.6,"d":23.7},
      {"p":"PSWB","x":402.5,"b":14.3,"o":19.8,"g":19.3,"e":24.7,"d":25},
      {"p":"PSWB","x":402.25,"b":13.9,"o":18.4,"g":23.9,"v":14,"e":28.5,"d":28.1},
      {"p":"PSWB","x":402,"b":13.6,"o":17,"g":31.2,"v":14.1,"e":35.1,"d":36.4},
      {"p":"PSWB","x":401.75,"b":13.3,"o":15.6,"g":40.9,"v":14.9,"e":44.8,"d":46.6},
      {"p":"PSWB","x":401.5,"b":13,"o":14.5,"g":51,"v":17.2,"e":56.6,"d":57.8},
      {"p":"PSWB","x":401.25,"b":12.6,"o":13.4,"g":58.6,"v":22.3,"e":69,"d":71.2},
      {"p":"PSWB","x":401,"b":12.3,"o":12.7,"g":61.3,"v":31.2,"e":80.6,"d":83.4},
      {"p":"PSWB","x":400.75,"b":11.7,"o":11.9,"g":57.7,"v":42.9,"e":89,"d":92.2},
      {"p":"PSWB","x":400.5,"b":11.1,"o":11.2,"g":49.1,"v":55,"u":11.2,"e":93.2,"d":96.8},
      {"p":"PSWB","x":400.25,"b":10.4,"o":10.4,"g":38,"v":62.8,"u":11.1,"e":91.1,"d":93.5},
      {"p":"PSWB","x":400,"b":9.8,"g":27.4,"v":63.1,"u":12.2,"e":83.1,"d":83.6},
      {"p":"PSWB","x":399.75,"b":9.1,"g":19.1,"v":55.2,"u":16.1,"e":72.1,"d":70.9},
      {"p":"PSWB","x":399.5,"b":8.4,"g":13.4,"v":42.2,"u":24.9,"e":63.7,"d":62.1},
      {"p":"PSWB","x":399.25,"b":7.8,"g":10,"v":28.9,"u":38.7,"e":62,"d":61.2},
      {"p":"PSWB","x":399,"b":7.2,"g":8,"v":18.4,"u":52.9,"e":65,"d":65.9},
      {"p":"PSWB","x":398.75,"b":6.7,"g":7,"v":11.8,"u":60.4,"e":65.8,"d":67.4},
      {"p":"PSWB","x":398.5,"b":6.2,"g":6.3,"v":8.1,"u":56.4,"e":58.4,"d":59.2},
      {"p":"PSWB","x":398.25,"b":5.8,"v":6.5,"u":43,"e":43.6,"d":43.1},
      {"p":"PSWB","x":398,"b":5.5,"v":5.7,"u":27.3,"e":27.5,"d":28.1},
      {"p":"PSWB","x":397.75,"b":5.3,"u":15.5,"e":15.5,"d":16.6},
      {"p":"PSWB","x":397.5,"b":5,"u":8.8,"e":8.8,"d":8.1},
      {"p":"PSWB","x":397.25,"b":4.9,"u":6,"e":6,"d":6.4},
      {"p":"PSWB","x":397,"b":4.8,"u":5.1,"e":5.1,"d":4.8},
      {"p":"PSWB","x":396.75,"b":4.8,"u":4.9,"e":4.9,"d":5.8},
      {"p":"PSWB","x":396.5,"b":4.7,"e":4.7,"d":3.9},
      {"p":"PSWB","x":396.25,"b":4.7,"e":4.7,"d":5.2},
      {"p":"PSWB","x":396,"b":4.7,"e":4.7,"d":4.3},

      {"p":"PSWB","lab":"Quaternary-N","tx":403.1,"ty":77.3,"sx":401.58,"sy":33.3,"hx":402.01,"hy":55.7},
      {"p":"PSWB","lab":"Pyridone-N-oxide","tx":404.23,"ty":44.7,"sx":403.02,"sy":18,"hx":403.95,"hy":30.7},
      {"p":"PSWB","lab":"Pyrrolic-N","tx":398.8,"ty":85.7,"sx":400.07,"sy":35.7,"hx":399.37,"hy":71.3},
      {"p":"PSWB","lab":"Pyridinic-N","tx":397.15,"ty":53,"sx":398.63,"sy":24,"hx":397.69,"hy":40.7}
    ]
  },
  "hconcat": [
    {
      "data": {"name": "a"},
      "facet": {"row": {"field": "p", "type": "nominal", "sort": ["PWB", "YMC", "RSB", "CSKB", "PSLB"], "title": "Intensity (a.u.)", "header": {"labels": false, "labelPadding": 0, "titlePadding": 1}}},
      "spacing": {"row": 0},
      "bounds": "flush",
      "spec": {
        "width": 429,
        "height": 99,
        "encoding": {
          "x": {"field": "x", "type": "quantitative",
            "scale": {"domain": [406, 396], "nice": false, "zero": false},
            "axis": {"title": "Binding Energy (eV)", "values": [406, 405, 404, 403, 402, 401, 400, 399, 398, 397, 396], "labelExpr": "datum.value % 2 === 0 ? datum.label : ''", "labelFlush": false, "labelOverlap": false, "tickSize": -5, "labelPadding": 10, "titlePadding": 8}}
        },
        "layer": [
          {"transform": [{"filter": "isValid(datum.o)"}],
           "mark": {"type": "area", "interpolate": "monotone", "fillOpacity": 0.85,
             "fill": {"gradient": "linear", "x1": 0, "y1": 0, "x2": 0, "y2": 1, "stops": [{"offset": 0, "color": "#f7c08f"}, {"offset": 1, "color": "#fdf1e6"}]},
             "line": {"stroke": "#f2b07a", "strokeWidth": 1}},
           "encoding": {"y": {"field": "o", "type": "quantitative", "scale": {"domain": [0, 99], "nice": false, "zero": false}}, "y2": {"field": "b"}}},
          {"transform": [{"filter": "isValid(datum.g)"}],
           "mark": {"type": "area", "interpolate": "monotone", "fillOpacity": 0.8,
             "fill": {"gradient": "linear", "x1": 0, "y1": 0, "x2": 0, "y2": 1, "stops": [{"offset": 0, "color": "#a3d1a0"}, {"offset": 1, "color": "#f1f8f1"}]},
             "line": {"stroke": "#98cf94", "strokeWidth": 1}},
           "encoding": {"y": {"field": "g", "type": "quantitative"}, "y2": {"field": "b"}}},
          {"transform": [{"filter": "isValid(datum.v)"}],
           "mark": {"type": "area", "interpolate": "monotone", "fillOpacity": 0.8,
             "fill": {"gradient": "linear", "x1": 0, "y1": 0, "x2": 0, "y2": 1, "stops": [{"offset": 0, "color": "#b9aad8"}, {"offset": 1, "color": "#f4f1f9"}]},
             "line": {"stroke": "#c1aedb", "strokeWidth": 1}},
           "encoding": {"y": {"field": "v", "type": "quantitative"}, "y2": {"field": "b"}}},
          {"transform": [{"filter": "isValid(datum.u)"}],
           "mark": {"type": "area", "interpolate": "monotone", "fillOpacity": 0.8,
             "fill": {"gradient": "linear", "x1": 0, "y1": 0, "x2": 0, "y2": 1, "stops": [{"offset": 0, "color": "#a4c0f2"}, {"offset": 1, "color": "#f1f5fd"}]},
             "line": {"stroke": "#83aaec", "strokeWidth": 1}},
           "encoding": {"y": {"field": "u", "type": "quantitative"}, "y2": {"field": "b"}}},
          {"transform": [{"filter": "isValid(datum.b)"}],
           "mark": {"type": "line", "interpolate": "monotone", "stroke": "#8a8a8a", "strokeWidth": 1.6},
           "encoding": {"y": {"field": "b", "type": "quantitative"}}},
          {"transform": [{"filter": "isValid(datum.e)"}],
           "mark": {"type": "line", "interpolate": "monotone", "stroke": "#3a3a2b", "strokeWidth": 1.6},
           "encoding": {"y": {"field": "e", "type": "quantitative"}}},
          {"transform": [{"filter": "isValid(datum.d)"}],
           "mark": {"type": "point", "filled": false, "color": "#9c9c9c", "strokeWidth": 0.7, "size": 14, "opacity": 1},
           "encoding": {"y": {"field": "d", "type": "quantitative"}}},
          {"transform": [{"filter": "isValid(datum.lab)"}],
           "mark": {"type": "rule", "strokeWidth": 7, "strokeCap": "butt"},
           "encoding": {
             "x": {"field": "sx", "type": "quantitative", "axis": {"title": "Binding Energy (eV)", "values": [406, 405, 404, 403, 402, 401, 400, 399, 398, 397, 396], "labelExpr": "datum.value % 2 === 0 ? datum.label : ''", "labelFlush": false, "labelOverlap": false, "tickSize": -5, "labelPadding": 10, "titlePadding": 8}},
             "y": {"field": "sy", "type": "quantitative"},
             "x2": {"field": "hx"}, "y2": {"field": "hy"},
             "stroke": {"field": "lab", "type": "nominal", "legend": null,
               "scale": {"domain": ["Quaternary-N", "Pyridone-N-oxide", "Pyrrolic-N", "Pyridinic-N"], "range": ["#a2d6a0", "#fcc595", "#c6b8dc", "#9dbdf2"]}}}},
          {"transform": [{"filter": "datum.lab === 'Quaternary-N'"}],
           "mark": {"type": "point", "shape": "triangle-up", "angle": 300, "filled": true, "size": 380, "opacity": 1, "color": "#a2d6a0"},
           "encoding": {"x": {"field": "hx", "type": "quantitative", "axis": {"title": "Binding Energy (eV)", "values": [406, 405, 404, 403, 402, 401, 400, 399, 398, 397, 396], "labelExpr": "datum.value % 2 === 0 ? datum.label : ''", "labelFlush": false, "labelOverlap": false, "tickSize": -5, "labelPadding": 10, "titlePadding": 8}}, "y": {"field": "hy", "type": "quantitative"}}},
          {"transform": [{"filter": "datum.lab === 'Pyridone-N-oxide'"}],
           "mark": {"type": "point", "shape": "triangle-up", "angle": 282, "filled": true, "size": 380, "opacity": 1, "color": "#fcc595"},
           "encoding": {"x": {"field": "hx", "type": "quantitative", "axis": {"title": "Binding Energy (eV)", "values": [406, 405, 404, 403, 402, 401, 400, 399, 398, 397, 396], "labelExpr": "datum.value % 2 === 0 ? datum.label : ''", "labelFlush": false, "labelOverlap": false, "tickSize": -5, "labelPadding": 10, "titlePadding": 8}}, "y": {"field": "hy", "type": "quantitative"}}},
          {"transform": [{"filter": "datum.lab === 'Pyrrolic-N'"}],
           "mark": {"type": "point", "shape": "triangle-up", "angle": 54, "filled": true, "size": 380, "opacity": 1, "color": "#c6b8dc"},
           "encoding": {"x": {"field": "hx", "type": "quantitative", "axis": {"title": "Binding Energy (eV)", "values": [406, 405, 404, 403, 402, 401, 400, 399, 398, 397, 396], "labelExpr": "datum.value % 2 === 0 ? datum.label : ''", "labelFlush": false, "labelOverlap": false, "tickSize": -5, "labelPadding": 10, "titlePadding": 8}}, "y": {"field": "hy", "type": "quantitative"}}},
          {"transform": [{"filter": "datum.lab === 'Pyridinic-N'"}],
           "mark": {"type": "point", "shape": "triangle-up", "angle": 57, "filled": true, "size": 380, "opacity": 1, "color": "#9dbdf2"},
           "encoding": {"x": {"field": "hx", "type": "quantitative", "axis": {"title": "Binding Energy (eV)", "values": [406, 405, 404, 403, 402, 401, 400, 399, 398, 397, 396], "labelExpr": "datum.value % 2 === 0 ? datum.label : ''", "labelFlush": false, "labelOverlap": false, "tickSize": -5, "labelPadding": 10, "titlePadding": 8}}, "y": {"field": "hy", "type": "quantitative"}}},
          {"transform": [{"filter": "isValid(datum.lab)"}],
           "mark": {"type": "text", "font": "Liberation Serif", "fontSize": 20, "align": "center", "baseline": "middle"},
           "encoding": {
             "x": {"field": "tx", "type": "quantitative", "axis": {"title": "Binding Energy (eV)", "values": [406, 405, 404, 403, 402, 401, 400, 399, 398, 397, 396], "labelExpr": "datum.value % 2 === 0 ? datum.label : ''", "labelFlush": false, "labelOverlap": false, "tickSize": -5, "labelPadding": 10, "titlePadding": 8}},
             "y": {"field": "ty", "type": "quantitative"},
             "text": {"field": "lab"},
             "color": {"field": "lab", "type": "nominal", "legend": null,
               "scale": {"domain": ["Quaternary-N", "Pyridone-N-oxide", "Pyrrolic-N", "Pyridinic-N"], "range": ["#47aa4c", "#f58a2e", "#8b68b2", "#3d79e3"]}}}},
          {"transform": [{"filter": "datum.x === 406"}],
           "mark": {"type": "text", "font": "Liberation Serif", "fontSize": 20, "align": "left", "baseline": "alphabetic", "color": "black"},
           "encoding": {"x": {"datum": 405.87, "type": "quantitative", "axis": {"title": "Binding Energy (eV)", "values": [406, 405, 404, 403, 402, 401, 400, 399, 398, 397, 396], "labelExpr": "datum.value % 2 === 0 ? datum.label : ''", "labelFlush": false, "labelOverlap": false, "tickSize": -5, "labelPadding": 10, "titlePadding": 8}}, "y": {"datum": 77.5, "type": "quantitative"}, "text": {"field": "p"}}},
          {"transform": [{"filter": "isValid(datum.tag)"}],
           "mark": {"type": "text", "font": "Liberation Serif", "fontSize": 44, "align": "left", "baseline": "alphabetic", "color": "black"},
           "encoding": {"y": {"datum": 69, "type": "quantitative"}, "text": {"field": "tag"}}}
        ]
      }
    },
    {
      "data": {"name": "b"},
      "facet": {"row": {"field": "p", "type": "nominal", "sort": ["WSB", "SSB", "BIB", "BBB", "PSWB"], "title": "Intensity (a.u.)", "header": {"labels": false, "labelPadding": 0, "titlePadding": 1}}},
      "spacing": {"row": 0},
      "bounds": "flush",
      "spec": {
        "width": 429,
        "height": 99,
        "encoding": {
          "x": {"field": "x", "type": "quantitative",
            "scale": {"domain": [406, 396], "nice": false, "zero": false},
            "axis": {"title": "Binding Energy (eV)", "values": [406, 405, 404, 403, 402, 401, 400, 399, 398, 397, 396], "labelExpr": "datum.value % 2 === 0 ? datum.label : ''", "labelFlush": false, "labelOverlap": false, "tickSize": -5, "labelPadding": 10, "titlePadding": 8}}
        },
        "layer": [
          {"transform": [{"filter": "isValid(datum.o)"}],
           "mark": {"type": "area", "interpolate": "monotone", "fillOpacity": 0.85,
             "fill": {"gradient": "linear", "x1": 0, "y1": 0, "x2": 0, "y2": 1, "stops": [{"offset": 0, "color": "#f7c08f"}, {"offset": 1, "color": "#fdf1e6"}]},
             "line": {"stroke": "#f2b07a", "strokeWidth": 1}},
           "encoding": {"y": {"field": "o", "type": "quantitative", "scale": {"domain": [0, 99], "nice": false, "zero": false}}, "y2": {"field": "b"}}},
          {"transform": [{"filter": "isValid(datum.g)"}],
           "mark": {"type": "area", "interpolate": "monotone", "fillOpacity": 0.8,
             "fill": {"gradient": "linear", "x1": 0, "y1": 0, "x2": 0, "y2": 1, "stops": [{"offset": 0, "color": "#a3d1a0"}, {"offset": 1, "color": "#f1f8f1"}]},
             "line": {"stroke": "#98cf94", "strokeWidth": 1}},
           "encoding": {"y": {"field": "g", "type": "quantitative"}, "y2": {"field": "b"}}},
          {"transform": [{"filter": "isValid(datum.v)"}],
           "mark": {"type": "area", "interpolate": "monotone", "fillOpacity": 0.8,
             "fill": {"gradient": "linear", "x1": 0, "y1": 0, "x2": 0, "y2": 1, "stops": [{"offset": 0, "color": "#b9aad8"}, {"offset": 1, "color": "#f4f1f9"}]},
             "line": {"stroke": "#c1aedb", "strokeWidth": 1}},
           "encoding": {"y": {"field": "v", "type": "quantitative"}, "y2": {"field": "b"}}},
          {"transform": [{"filter": "isValid(datum.u)"}],
           "mark": {"type": "area", "interpolate": "monotone", "fillOpacity": 0.8,
             "fill": {"gradient": "linear", "x1": 0, "y1": 0, "x2": 0, "y2": 1, "stops": [{"offset": 0, "color": "#a4c0f2"}, {"offset": 1, "color": "#f1f5fd"}]},
             "line": {"stroke": "#83aaec", "strokeWidth": 1}},
           "encoding": {"y": {"field": "u", "type": "quantitative"}, "y2": {"field": "b"}}},
          {"transform": [{"filter": "isValid(datum.b)"}],
           "mark": {"type": "line", "interpolate": "monotone", "stroke": "#8a8a8a", "strokeWidth": 1.6},
           "encoding": {"y": {"field": "b", "type": "quantitative"}}},
          {"transform": [{"filter": "isValid(datum.e)"}],
           "mark": {"type": "line", "interpolate": "monotone", "stroke": "#3a3a2b", "strokeWidth": 1.6},
           "encoding": {"y": {"field": "e", "type": "quantitative"}}},
          {"transform": [{"filter": "isValid(datum.d)"}],
           "mark": {"type": "point", "filled": false, "color": "#9c9c9c", "strokeWidth": 0.7, "size": 14, "opacity": 1},
           "encoding": {"y": {"field": "d", "type": "quantitative"}}},
          {"transform": [{"filter": "isValid(datum.lab)"}],
           "mark": {"type": "rule", "strokeWidth": 7, "strokeCap": "butt"},
           "encoding": {
             "x": {"field": "sx", "type": "quantitative", "axis": {"title": "Binding Energy (eV)", "values": [406, 405, 404, 403, 402, 401, 400, 399, 398, 397, 396], "labelExpr": "datum.value % 2 === 0 ? datum.label : ''", "labelFlush": false, "labelOverlap": false, "tickSize": -5, "labelPadding": 10, "titlePadding": 8}},
             "y": {"field": "sy", "type": "quantitative"},
             "x2": {"field": "hx"}, "y2": {"field": "hy"},
             "stroke": {"field": "lab", "type": "nominal", "legend": null,
               "scale": {"domain": ["Quaternary-N", "Pyridone-N-oxide", "Pyrrolic-N", "Pyridinic-N"], "range": ["#a2d6a0", "#fcc595", "#c6b8dc", "#9dbdf2"]}}}},
          {"transform": [{"filter": "datum.lab === 'Quaternary-N'"}],
           "mark": {"type": "point", "shape": "triangle-up", "angle": 321, "filled": true, "size": 380, "opacity": 1, "color": "#a2d6a0"},
           "encoding": {"x": {"field": "hx", "type": "quantitative", "axis": {"title": "Binding Energy (eV)", "values": [406, 405, 404, 403, 402, 401, 400, 399, 398, 397, 396], "labelExpr": "datum.value % 2 === 0 ? datum.label : ''", "labelFlush": false, "labelOverlap": false, "tickSize": -5, "labelPadding": 10, "titlePadding": 8}}, "y": {"field": "hy", "type": "quantitative"}}},
          {"transform": [{"filter": "datum.lab === 'Pyridone-N-oxide'"}],
           "mark": {"type": "point", "shape": "triangle-up", "angle": 288, "filled": true, "size": 380, "opacity": 1, "color": "#fcc595"},
           "encoding": {"x": {"field": "hx", "type": "quantitative", "axis": {"title": "Binding Energy (eV)", "values": [406, 405, 404, 403, 402, 401, 400, 399, 398, 397, 396], "labelExpr": "datum.value % 2 === 0 ? datum.label : ''", "labelFlush": false, "labelOverlap": false, "tickSize": -5, "labelPadding": 10, "titlePadding": 8}}, "y": {"field": "hy", "type": "quantitative"}}},
          {"transform": [{"filter": "datum.lab === 'Pyrrolic-N'"}],
           "mark": {"type": "point", "shape": "triangle-up", "angle": 40, "filled": true, "size": 380, "opacity": 1, "color": "#c6b8dc"},
           "encoding": {"x": {"field": "hx", "type": "quantitative", "axis": {"title": "Binding Energy (eV)", "values": [406, 405, 404, 403, 402, 401, 400, 399, 398, 397, 396], "labelExpr": "datum.value % 2 === 0 ? datum.label : ''", "labelFlush": false, "labelOverlap": false, "tickSize": -5, "labelPadding": 10, "titlePadding": 8}}, "y": {"field": "hy", "type": "quantitative"}}},
          {"transform": [{"filter": "datum.lab === 'Pyridinic-N'"}],
           "mark": {"type": "point", "shape": "triangle-up", "angle": 67, "filled": true, "size": 380, "opacity": 1, "color": "#9dbdf2"},
           "encoding": {"x": {"field": "hx", "type": "quantitative", "axis": {"title": "Binding Energy (eV)", "values": [406, 405, 404, 403, 402, 401, 400, 399, 398, 397, 396], "labelExpr": "datum.value % 2 === 0 ? datum.label : ''", "labelFlush": false, "labelOverlap": false, "tickSize": -5, "labelPadding": 10, "titlePadding": 8}}, "y": {"field": "hy", "type": "quantitative"}}},
          {"transform": [{"filter": "isValid(datum.lab)"}],
           "mark": {"type": "text", "font": "Liberation Serif", "fontSize": 20, "align": "center", "baseline": "middle"},
           "encoding": {
             "x": {"field": "tx", "type": "quantitative", "axis": {"title": "Binding Energy (eV)", "values": [406, 405, 404, 403, 402, 401, 400, 399, 398, 397, 396], "labelExpr": "datum.value % 2 === 0 ? datum.label : ''", "labelFlush": false, "labelOverlap": false, "tickSize": -5, "labelPadding": 10, "titlePadding": 8}},
             "y": {"field": "ty", "type": "quantitative"},
             "text": {"field": "lab"},
             "color": {"field": "lab", "type": "nominal", "legend": null,
               "scale": {"domain": ["Quaternary-N", "Pyridone-N-oxide", "Pyrrolic-N", "Pyridinic-N"], "range": ["#47aa4c", "#f58a2e", "#8b68b2", "#3d79e3"]}}}},
          {"transform": [{"filter": "datum.x === 406"}],
           "mark": {"type": "text", "font": "Liberation Serif", "fontSize": 20, "align": "left", "baseline": "alphabetic", "color": "black"},
           "encoding": {"x": {"datum": 405.87, "type": "quantitative", "axis": {"title": "Binding Energy (eV)", "values": [406, 405, 404, 403, 402, 401, 400, 399, 398, 397, 396], "labelExpr": "datum.value % 2 === 0 ? datum.label : ''", "labelFlush": false, "labelOverlap": false, "tickSize": -5, "labelPadding": 10, "titlePadding": 8}}, "y": {"datum": 77.5, "type": "quantitative"}, "text": {"field": "p"}}},
          {"transform": [{"filter": "isValid(datum.tag)"}],
           "mark": {"type": "text", "font": "Liberation Serif", "fontSize": 44, "align": "left", "baseline": "alphabetic", "color": "black"},
           "encoding": {"y": {"datum": 69, "type": "quantitative"}, "text": {"field": "tag"}}}
        ]
      }
    }
  ]
}
